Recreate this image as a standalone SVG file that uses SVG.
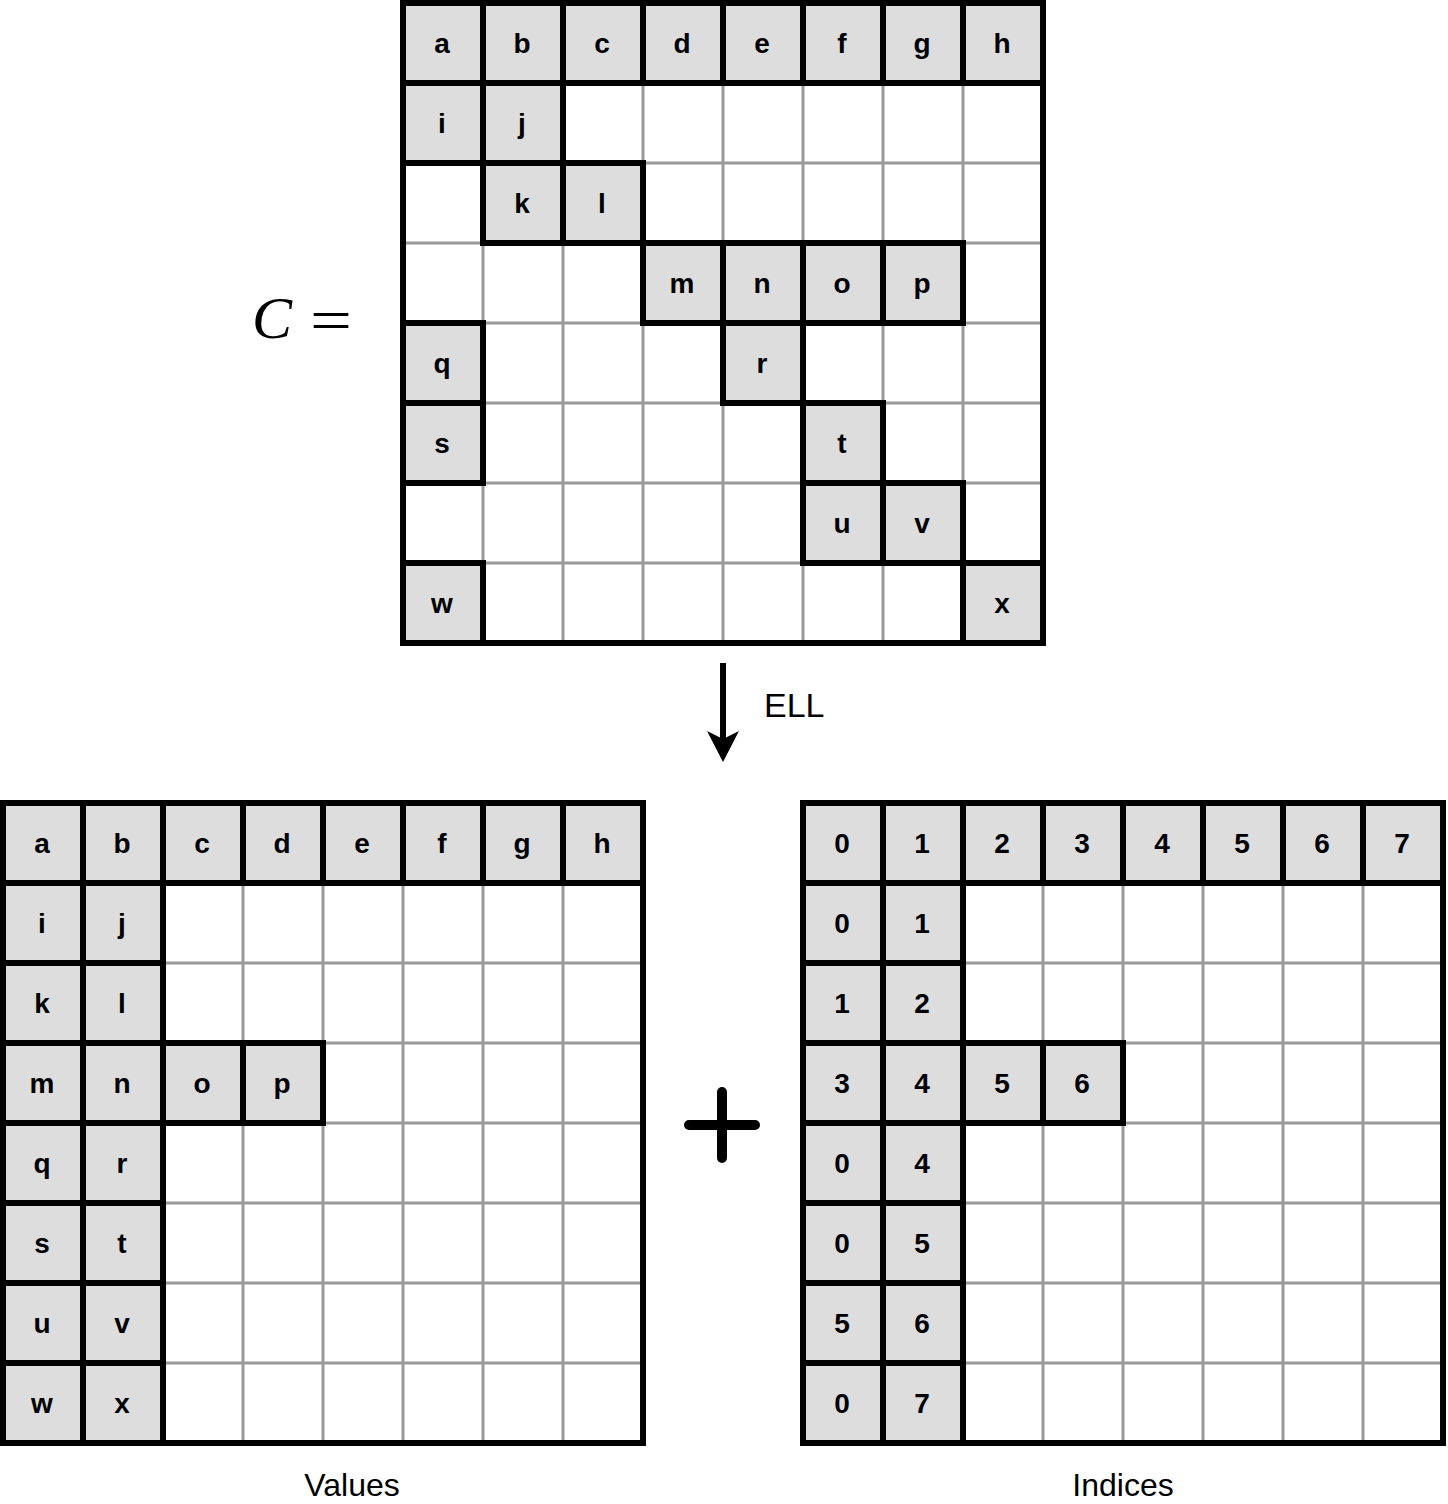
<svg xmlns="http://www.w3.org/2000/svg" width="1448" height="1504" viewBox="0 0 1448 1504">
<style>
.g{fill:none;stroke:#999999;stroke-width:3}
.f{fill:#dddddd;stroke:#000000;stroke-width:6}
.b{fill:none;stroke:#000000;stroke-width:6}
.t{font-family:"Liberation Sans",Arial,sans-serif;font-size:28px;font-weight:bold;text-anchor:middle;fill:#000000}
.l{font-family:"Liberation Sans",Arial,sans-serif;font-size:32px;fill:#000000}
</style>
<rect x="0" y="0" width="1448" height="1504" fill="#ffffff"/>
<g id="matrix-C">
<path class="g" d="M483 3V643M563 3V643M643 3V643M723 3V643M803 3V643M883 3V643M963 3V643M403 83H1043M403 163H1043M403 243H1043M403 323H1043M403 403H1043M403 483H1043M403 563H1043"/>
<g id="C-cells">
<rect class="f" x="403" y="3" width="80" height="80"/><rect class="f" x="483" y="3" width="80" height="80"/><rect class="f" x="563" y="3" width="80" height="80"/><rect class="f" x="643" y="3" width="80" height="80"/><rect class="f" x="723" y="3" width="80" height="80"/><rect class="f" x="803" y="3" width="80" height="80"/><rect class="f" x="883" y="3" width="80" height="80"/><rect class="f" x="963" y="3" width="80" height="80"/>
<rect class="f" x="403" y="83" width="80" height="80"/><rect class="f" x="483" y="83" width="80" height="80"/>
<rect class="f" x="483" y="163" width="80" height="80"/><rect class="f" x="563" y="163" width="80" height="80"/>
<rect class="f" x="643" y="243" width="80" height="80"/><rect class="f" x="723" y="243" width="80" height="80"/><rect class="f" x="803" y="243" width="80" height="80"/><rect class="f" x="883" y="243" width="80" height="80"/>
<rect class="f" x="403" y="323" width="80" height="80"/><rect class="f" x="723" y="323" width="80" height="80"/>
<rect class="f" x="403" y="403" width="80" height="80"/><rect class="f" x="803" y="403" width="80" height="80"/>
<rect class="f" x="803" y="483" width="80" height="80"/><rect class="f" x="883" y="483" width="80" height="80"/>
<rect class="f" x="403" y="563" width="80" height="80"/><rect class="f" x="963" y="563" width="80" height="80"/>
</g>
<rect class="b" x="403" y="3" width="640" height="640"/>
<g id="C-labels">
<text class="t" x="442" y="53">a</text><text class="t" x="522" y="53">b</text><text class="t" x="602" y="53">c</text><text class="t" x="682" y="53">d</text><text class="t" x="762" y="53">e</text><text class="t" x="842" y="53">f</text><text class="t" x="922" y="53">g</text><text class="t" x="1002" y="53">h</text>
<text class="t" x="442" y="133">i</text><text class="t" x="522" y="133">j</text>
<text class="t" x="522" y="213">k</text><text class="t" x="602" y="213">l</text>
<text class="t" x="682" y="293">m</text><text class="t" x="762" y="293">n</text><text class="t" x="842" y="293">o</text><text class="t" x="922" y="293">p</text>
<text class="t" x="442" y="373">q</text><text class="t" x="762" y="373">r</text>
<text class="t" x="442" y="453">s</text><text class="t" x="842" y="453">t</text>
<text class="t" x="842" y="533">u</text><text class="t" x="922" y="533">v</text>
<text class="t" x="442" y="613">w</text><text class="t" x="1002" y="613">x</text>
</g>
</g>
<g id="C-equals">
<text x="252" y="338" font-family="'Liberation Serif','Times New Roman',serif" font-size="60" font-style="italic" fill="#000000">C</text>
<text x="310" y="340" font-family="'Liberation Serif','Times New Roman',serif" font-size="60" fill="#000000" textLength="42" lengthAdjust="spacingAndGlyphs">=</text>
</g>
<g id="matrix-values">
<path class="g" d="M83 803V1443M163 803V1443M243 803V1443M323 803V1443M403 803V1443M483 803V1443M563 803V1443M3 883H643M3 963H643M3 1043H643M3 1123H643M3 1203H643M3 1283H643M3 1363H643"/>
<g id="values-cells">
<rect class="f" x="3" y="803" width="80" height="80"/><rect class="f" x="83" y="803" width="80" height="80"/><rect class="f" x="163" y="803" width="80" height="80"/><rect class="f" x="243" y="803" width="80" height="80"/><rect class="f" x="323" y="803" width="80" height="80"/><rect class="f" x="403" y="803" width="80" height="80"/><rect class="f" x="483" y="803" width="80" height="80"/><rect class="f" x="563" y="803" width="80" height="80"/>
<rect class="f" x="3" y="883" width="80" height="80"/><rect class="f" x="83" y="883" width="80" height="80"/>
<rect class="f" x="3" y="963" width="80" height="80"/><rect class="f" x="83" y="963" width="80" height="80"/>
<rect class="f" x="3" y="1043" width="80" height="80"/><rect class="f" x="83" y="1043" width="80" height="80"/><rect class="f" x="163" y="1043" width="80" height="80"/><rect class="f" x="243" y="1043" width="80" height="80"/>
<rect class="f" x="3" y="1123" width="80" height="80"/><rect class="f" x="83" y="1123" width="80" height="80"/>
<rect class="f" x="3" y="1203" width="80" height="80"/><rect class="f" x="83" y="1203" width="80" height="80"/>
<rect class="f" x="3" y="1283" width="80" height="80"/><rect class="f" x="83" y="1283" width="80" height="80"/>
<rect class="f" x="3" y="1363" width="80" height="80"/><rect class="f" x="83" y="1363" width="80" height="80"/>
</g>
<rect class="b" x="3" y="803" width="640" height="640"/>
<g id="values-labels">
<text class="t" x="42" y="853">a</text><text class="t" x="122" y="853">b</text><text class="t" x="202" y="853">c</text><text class="t" x="282" y="853">d</text><text class="t" x="362" y="853">e</text><text class="t" x="442" y="853">f</text><text class="t" x="522" y="853">g</text><text class="t" x="602" y="853">h</text>
<text class="t" x="42" y="933">i</text><text class="t" x="122" y="933">j</text>
<text class="t" x="42" y="1013">k</text><text class="t" x="122" y="1013">l</text>
<text class="t" x="42" y="1093">m</text><text class="t" x="122" y="1093">n</text><text class="t" x="202" y="1093">o</text><text class="t" x="282" y="1093">p</text>
<text class="t" x="42" y="1173">q</text><text class="t" x="122" y="1173">r</text>
<text class="t" x="42" y="1253">s</text><text class="t" x="122" y="1253">t</text>
<text class="t" x="42" y="1333">u</text><text class="t" x="122" y="1333">v</text>
<text class="t" x="42" y="1413">w</text><text class="t" x="122" y="1413">x</text>
</g>
<text class="l" x="352" y="1496" text-anchor="middle">Values</text>
</g>
<g id="matrix-indices">
<path class="g" d="M883 803V1443M963 803V1443M1043 803V1443M1123 803V1443M1203 803V1443M1283 803V1443M1363 803V1443M803 883H1443M803 963H1443M803 1043H1443M803 1123H1443M803 1203H1443M803 1283H1443M803 1363H1443"/>
<g id="indices-cells">
<rect class="f" x="803" y="803" width="80" height="80"/><rect class="f" x="883" y="803" width="80" height="80"/><rect class="f" x="963" y="803" width="80" height="80"/><rect class="f" x="1043" y="803" width="80" height="80"/><rect class="f" x="1123" y="803" width="80" height="80"/><rect class="f" x="1203" y="803" width="80" height="80"/><rect class="f" x="1283" y="803" width="80" height="80"/><rect class="f" x="1363" y="803" width="80" height="80"/>
<rect class="f" x="803" y="883" width="80" height="80"/><rect class="f" x="883" y="883" width="80" height="80"/>
<rect class="f" x="803" y="963" width="80" height="80"/><rect class="f" x="883" y="963" width="80" height="80"/>
<rect class="f" x="803" y="1043" width="80" height="80"/><rect class="f" x="883" y="1043" width="80" height="80"/><rect class="f" x="963" y="1043" width="80" height="80"/><rect class="f" x="1043" y="1043" width="80" height="80"/>
<rect class="f" x="803" y="1123" width="80" height="80"/><rect class="f" x="883" y="1123" width="80" height="80"/>
<rect class="f" x="803" y="1203" width="80" height="80"/><rect class="f" x="883" y="1203" width="80" height="80"/>
<rect class="f" x="803" y="1283" width="80" height="80"/><rect class="f" x="883" y="1283" width="80" height="80"/>
<rect class="f" x="803" y="1363" width="80" height="80"/><rect class="f" x="883" y="1363" width="80" height="80"/>
</g>
<rect class="b" x="803" y="803" width="640" height="640"/>
<g id="indices-labels">
<text class="t" x="842" y="853">0</text><text class="t" x="922" y="853">1</text><text class="t" x="1002" y="853">2</text><text class="t" x="1082" y="853">3</text><text class="t" x="1162" y="853">4</text><text class="t" x="1242" y="853">5</text><text class="t" x="1322" y="853">6</text><text class="t" x="1402" y="853">7</text>
<text class="t" x="842" y="933">0</text><text class="t" x="922" y="933">1</text>
<text class="t" x="842" y="1013">1</text><text class="t" x="922" y="1013">2</text>
<text class="t" x="842" y="1093">3</text><text class="t" x="922" y="1093">4</text><text class="t" x="1002" y="1093">5</text><text class="t" x="1082" y="1093">6</text>
<text class="t" x="842" y="1173">0</text><text class="t" x="922" y="1173">4</text>
<text class="t" x="842" y="1253">0</text><text class="t" x="922" y="1253">5</text>
<text class="t" x="842" y="1333">5</text><text class="t" x="922" y="1333">6</text>
<text class="t" x="842" y="1413">0</text><text class="t" x="922" y="1413">7</text>
</g>
<text class="l" x="1123" y="1496" text-anchor="middle">Indices</text>
</g>
<g id="connectors">
<g id="ell-arrow">
<line x1="723" y1="663" x2="723" y2="742" stroke="#000000" stroke-width="6"/>
<polygon points="707,731 723,739 739,731 723,762" fill="#000000"/>
<text class="l" x="764" y="717" style="font-size:34px">ELL</text>
</g>
</g>
<g id="plus">
<path d="M689 1125H755M722 1092V1158" stroke="#000000" stroke-width="10" stroke-linecap="round" fill="none"/>
</g>
</svg>
